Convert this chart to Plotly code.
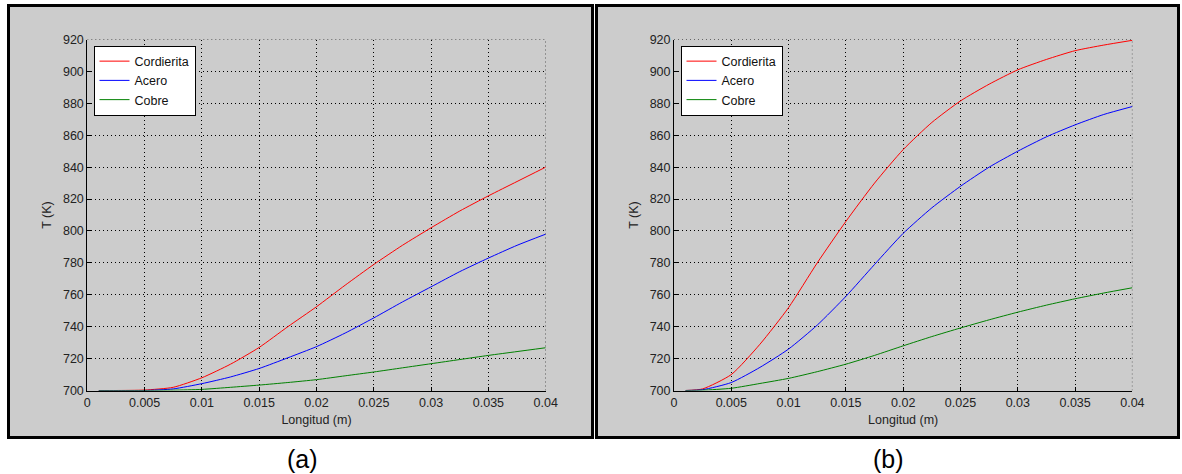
import plotly.graph_objects as go

# ---------------- data ----------------
longitud = [0.001, 0.0025, 0.005, 0.0075, 0.01, 0.0125, 0.015, 0.0175, 0.02,
            0.0225, 0.025, 0.0275, 0.03, 0.0325, 0.035, 0.0375, 0.04]

# panel (a)
a_cordierita = [700, 700, 700.3, 702, 708, 716.5, 727, 740, 752.5,
                766, 779, 791, 802, 812.5, 822, 831, 840]
a_acero = [700, 700, 700, 701, 704.3, 708.5, 713.8, 720.5, 727.5,
           736, 745.5, 755.5, 765, 774.5, 783, 791, 798]
a_cobre = [700, 700, 700, 700.2, 700.7, 702, 703.4, 705, 706.8,
           709.2, 711.6, 714.2, 716.8, 719.4, 722, 724.4, 726.8]

# panel (b)
b_cordierita = [700, 701, 710, 729, 752, 780, 806, 830, 851,
                868, 881.5, 892, 901, 907.5, 913, 916.5, 919.5]
b_acero = [700, 700.5, 705, 714.5, 726, 741, 759, 779, 798.5,
           814.5, 828, 840, 850, 859, 866.5, 873, 878]
b_cobre = [700, 700.2, 701.4, 704.4, 707.6, 711.8, 716.5, 722, 728,
           733.8, 739.2, 744.3, 749.1, 753.5, 757.5, 761.1, 764.4]

series_names = ["Cordierita", "Acero", "Cobre"]
series_colors = ["#ff0000", "#0000ff", "#008000"]

x_ticks = [0, 0.005, 0.01, 0.015, 0.02, 0.025, 0.03, 0.035, 0.04]
y_ticks = list(range(700, 921, 20))
panel_labels = ["(a)", "(b)"]
x_title = "Longitud (m)"
y_title = "T (K)"

# ---------------- figure ----------------
W, H = 1182, 474
fig = go.Figure()

panels = [
    ("x", "y", "legend", [a_cordierita, a_acero, a_cobre]),
    ("x2", "y2", "legend2", [b_cordierita, b_acero, b_cobre]),
]
for xa, ya, lg, data in panels:
    for name, col, vals in zip(series_names, series_colors, data):
        fig.add_trace(go.Scatter(
            x=longitud, y=vals, mode="lines", name=name,
            line=dict(color=col, width=1, shape="spline", smoothing=0.6),
            xaxis=xa, yaxis=ya, legend=lg, showlegend=True,
        ))

def px_x(p):
    return p / W

def px_y(p):
    return 1 - p / H

plot_top, plot_bot = 39.5, 390.5
dom_a = [px_x(87.3), px_x(545.7)]
dom_b = [px_x(674.0), px_x(1132.4)]
ydom = [px_y(plot_bot), px_y(plot_top)]

font_fam = "Arial, Liberation Sans, sans-serif"
txt_col = "#222222"
axis_common = dict(
    showline=True, linecolor="black", linewidth=1, mirror=False,
    ticks="inside", ticklen=4, tickcolor="black", tickwidth=1,
    showgrid=True, gridcolor="black", gridwidth=1, griddash="1px,3px",
    zeroline=False, automargin=False,
    tickfont=dict(family=font_fam, size=12.5, color=txt_col),
)
xaxis_common = dict(axis_common, range=[0, 0.04], tickvals=x_ticks,
                    ticktext=[("%g" % v) for v in x_ticks],
                    title=dict(text=x_title, font=dict(family=font_fam, size=12.5, color=txt_col),
                               standoff=6))
yaxis_common = dict(axis_common, range=[700, 920], tickvals=y_ticks,
                    title=dict(text=y_title, font=dict(family=font_fam, size=12.5, color=txt_col),
                               standoff=8))

legend_common = dict(xanchor="left", yanchor="top",
                     bgcolor="white", bordercolor="black", borderwidth=1,
                     font=dict(family=font_fam, size=12.5, color="#111111"),
                     tracegroupgap=0, itemwidth=30)

fig.update_layout(
    width=W, height=H,
    margin=dict(l=0, r=0, t=0, b=0, autoexpand=False),
    paper_bgcolor="white", plot_bgcolor="white",
    xaxis=dict(xaxis_common, domain=dom_a, anchor="y"),
    yaxis=dict(yaxis_common, domain=ydom, anchor="x"),
    xaxis2=dict(xaxis_common, domain=dom_b, anchor="y2"),
    yaxis2=dict(yaxis_common, domain=ydom, anchor="x2"),
    legend=dict(legend_common, x=px_x(93.5), y=px_y(45.5)),
    legend2=dict(legend_common, x=px_x(680.5), y=px_y(45.5)),
    showlegend=True,
)

shapes = []
# gray framed panels
for x0, x1 in [(8.5, 592.5), (596.5, 1178.5)]:
    shapes.append(dict(type="rect", xref="paper", yref="paper",
                       x0=px_x(x0), x1=px_x(x1), y0=px_y(437.5), y1=px_y(5.5),
                       fillcolor="#cccccc", line=dict(color="black", width=3),
                       layer="below"))
# dotted top / right edges of the axes boxes (grid lines at range ends)
for xa, ya in [("x", "y"), ("x2", "y2")]:
    shapes.append(dict(type="line", xref=xa, yref=ya, x0=0, x1=0.04, y0=920, y1=920,
                       line=dict(color="black", width=1, dash="1px,3px"), layer="above"))
    shapes.append(dict(type="line", xref=xa, yref=ya, x0=0.04, x1=0.04, y0=700, y1=920,
                       line=dict(color="black", width=1, dash="1px,3px"), layer="above"))
fig.update_layout(shapes=shapes)

annotations = []
for lab, cx in zip(panel_labels, [302, 888]):
    annotations.append(dict(text=lab, xref="paper", yref="paper",
                            x=px_x(cx), y=px_y(459), xanchor="center", yanchor="middle",
                            showarrow=False,
                            font=dict(family=font_fam, size=25, color="black")))
fig.update_layout(annotations=annotations)

fig.write_html("out.html",
               config={"displayModeBar": False},
               post_script="document.body.style.margin='0';document.body.style.overflow='hidden';")
